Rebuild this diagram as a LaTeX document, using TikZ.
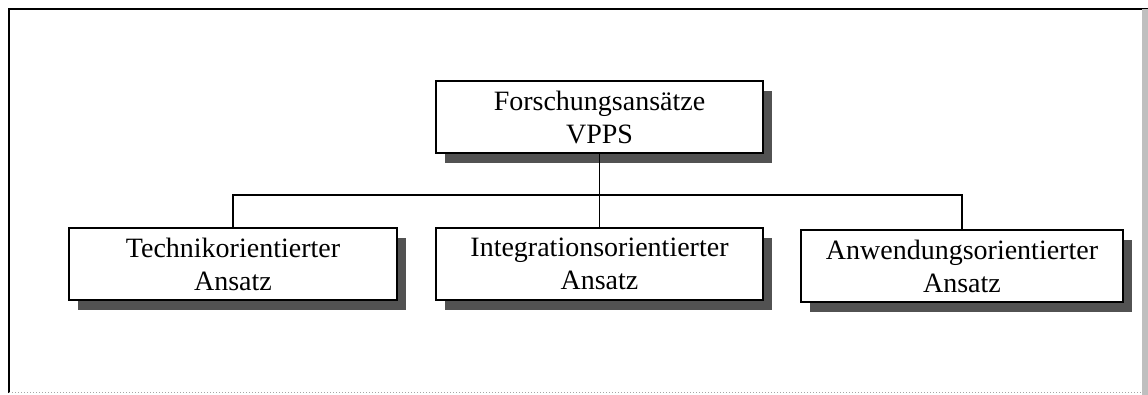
\documentclass[tikz,border=0pt]{standalone}
\usepackage{fontspec}
\setmainfont{Liberation Serif}
\usetikzlibrary{shadows}
\begin{document}
\begin{tikzpicture}[x=1pt,y=-1pt,
  box/.style={draw=black, line width=1.8pt, fill=white, minimum width=327pt, minimum height=72pt,
    align=center, inner sep=0pt,
    font=\fontsize{28}{33}\selectfont,
    drop shadow={shadow xshift=9pt, shadow yshift=-10pt, fill=black!68, opacity=1}},
  conn/.style={line width=1.8pt}]
\useasboundingbox (0,0) rectangle (1148,395);
% frame
\draw[line width=2pt] (9,393) -- (9,9) -- (1148,9);
\draw[line width=1pt, black!35, dotted] (9,392) -- (1148,392);
\fill[black!25] (1142,9) rectangle (1148,395);
% nodes
\node[box] (top) at (599.5,117) {Forschungsansätze\\VPPS};
\node[box, minimum width=328pt] (l) at (233,264) {Technikorientierter\\Ansatz};
\node[box] (m) at (599.5,264) {Integrationsorientierter\\Ansatz};
\node[box, minimum width=322pt] (r) at (962,266) {Anwendungsorientierter\\Ansatz};
\coordinate (bus) at (599.5,195);
% connectors
\draw[conn] (top.south) -- (bus);
\draw[conn] (l.north) |- (bus) -| (r.north);
\draw[conn] (bus) -- (m.north);
\end{tikzpicture}
\end{document}
